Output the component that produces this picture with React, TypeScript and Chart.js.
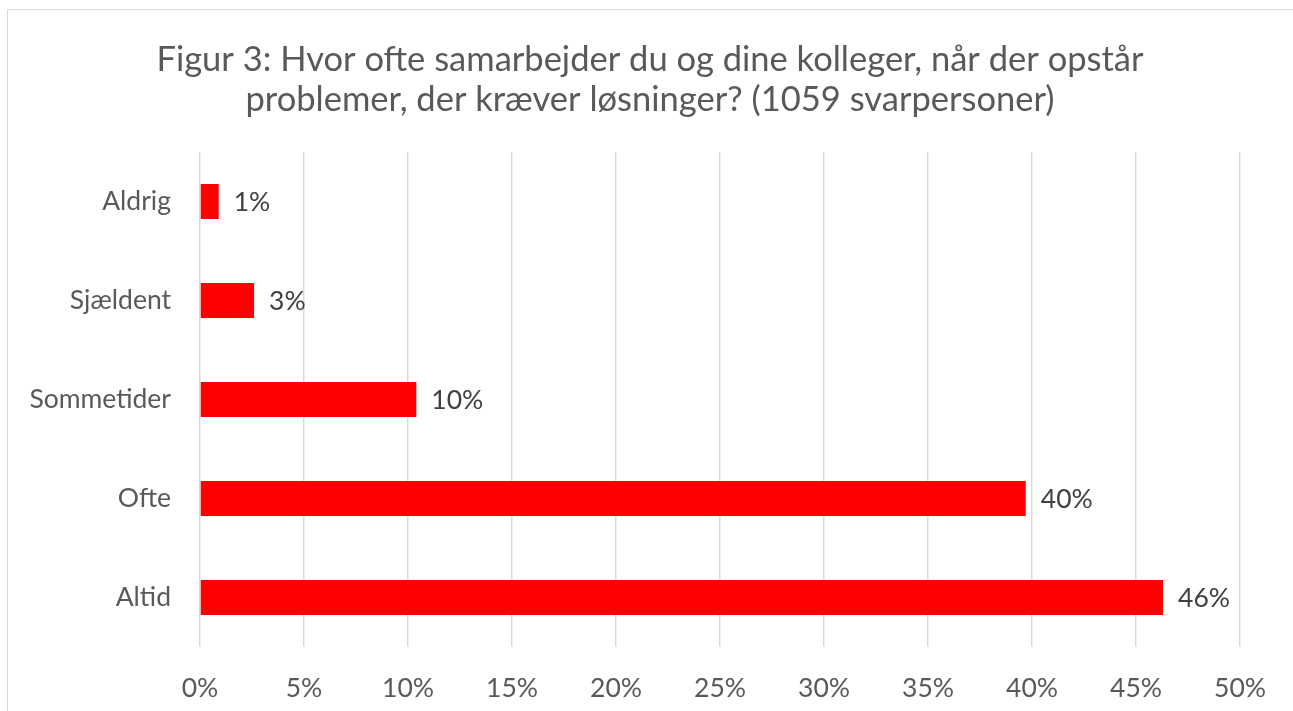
import React, { useEffect, useRef } from "react";
import { Chart, registerables } from "chart.js";

Chart.register(...registerables);

const titleLines = [
  "Figur 3: Hvor ofte samarbejder du og dine kolleger, når der opstår",
  "problemer, der kræver løsninger? (1059 svarpersoner)",
];
const categories = ["Aldrig", "Sjældent", "Sommetider", "Ofte", "Altid"];
const values = [0.9, 2.6, 10.4, 39.7, 46.3];
const valueLabels = ["1%", "3%", "10%", "40%", "46%"];
const xTicks = [0, 5, 10, 15, 20, 25, 30, 35, 40, 45, 50];

const FONT = "Lato, 'Open Sans', sans-serif";
const TICK_SIZE = 26.5;

const titlePlugin = {
  id: "customTitle",
  afterDraw(chart: any) {
    const ctx = chart.ctx;
    ctx.save();
    ctx.font = `34.5px ${FONT}`;
    ctx.fillStyle = "#595959";
    ctx.textAlign = "center";
    ctx.textBaseline = "middle";
    titleLines.forEach((line, i) => {
      ctx.fillText(line, 650, 60 + i * 40);
    });
    ctx.restore();
  },
};

const barLabelPlugin = {
  id: "barLabels",
  afterDatasetsDraw(chart: any) {
    const ctx = chart.ctx;
    const meta = chart.getDatasetMeta(0);
    ctx.save();
    ctx.font = `${TICK_SIZE}px ${FONT}`;
    ctx.fillStyle = "#404040";
    ctx.textAlign = "left";
    ctx.textBaseline = "middle";
    meta.data.forEach((bar: any, i: number) => {
      ctx.fillText(valueLabels[i], bar.x + 15, bar.y + 1);
    });
    ctx.restore();
  },
};

export default function App() {
  const ref = useRef<HTMLCanvasElement>(null);
  useEffect(() => {
    if (!ref.current) return;
    const chart = new Chart(ref.current, {
      type: "bar",
      data: {
        labels: categories,
        datasets: [
          {
            data: values,
            backgroundColor: "#ff0000",
            borderWidth: 0,
            barPercentage: 0.354,
            categoryPercentage: 1,
          },
        ],
      },
      options: {
        indexAxis: "y",
        animation: false,
        responsive: false,
        maintainAspectRatio: false,
        layout: { padding: { left: 0, right: 53, top: 152, bottom: 7 } },
        plugins: {
          legend: { display: false },
          tooltip: { enabled: false },
          title: { display: false },
        },
        scales: {
          x: {
            min: 0,
            max: 50,
            afterBuildTicks: (scale: any) => {
              scale.ticks = xTicks.map((v) => ({ value: v }));
            },
            afterFit: (scale: any) => {
              scale.height = 57;
              scale.paddingLeft = 0;
              scale.paddingRight = 0;
            },
            grid: { color: "#d9d9d9", lineWidth: 1.5, drawTicks: false },
            border: { display: false },
            ticks: {
              color: "#595959",
              font: { family: FONT, size: TICK_SIZE, lineHeight: 32 / TICK_SIZE },
              padding: 25,
              callback: (v: any) => `${v}%`,
            },
          },
          y: {
            grid: { display: false, drawTicks: false },
            border: { display: false },
            afterFit: (scale: any) => {
              scale.width = 200;
              scale.paddingTop = 0;
              scale.paddingBottom = 0;
            },
            ticks: {
              color: "#595959",
              font: { family: FONT, size: TICK_SIZE },
              padding: 29,
            },
          },
        },
      },
      plugins: [barLabelPlugin, titlePlugin],
    });
    return () => chart.destroy();
  }, []);

  return (
    <div
      style={{
        position: "absolute",
        left: 0,
        top: 0,
        width: 1293,
        height: 711,
        overflow: "hidden",
        background: "#ffffff",
      }}
    >
      <div
        style={{
          position: "absolute",
          left: 7,
          top: 9,
          width: 1320,
          height: 740,
          border: "1.5px solid #d9d9d9",
          boxSizing: "border-box",
        }}
      />
      <canvas
        ref={ref}
        width={1293}
        height={711}
        style={{ position: "absolute", left: 0, top: 0 }}
      />
    </div>
  );
}
